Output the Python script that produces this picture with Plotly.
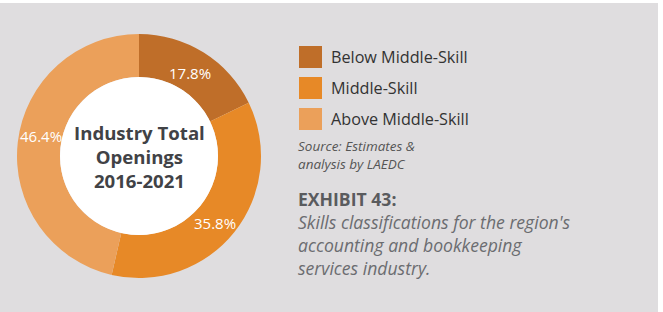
import plotly.graph_objects as go

categories = ["Below Middle-Skill", "Middle-Skill", "Above Middle-Skill"]
shares = [17.8, 35.8, 46.4]
colors = ["#bf6e29", "#e78927", "#eba05a"]
center_title = "Industry Total<br>Openings<br>2016-2021"
source_text = "Source: Estimates &<br>analysis by LAEDC"
exhibit_title = "EXHIBIT 43:"
exhibit_caption = ["Skills classifications for the region's", "accounting and bookkeeping", "services industry."]

W, H = 663, 312
def px(x): return x / W
def py(y): return 1 - y / H

FONT = "Open Sans"
CX, CY, R_OUT, R_IN = 139, 156, 122, 79

fig = go.Figure()
fig.add_trace(go.Pie(
    labels=categories, values=shares, sort=False, direction="clockwise",
    rotation=0, hole=R_IN / R_OUT, marker=dict(colors=colors, line=dict(width=0)),
    textinfo="none", hoverinfo="label+percent", showlegend=False,
    domain=dict(x=[px(CX - R_OUT), px(CX + R_OUT)], y=[py(CY + R_OUT), py(CY - R_OUT)]),
))

shapes = [
    dict(type="rect", xref="paper", yref="paper", x0=0, x1=px(658), y0=0, y1=py(3),
         fillcolor="#dfdddf", line=dict(width=0), layer="below"),
    dict(type="circle", xref="paper", yref="paper", x0=px(CX - R_IN), x1=px(CX + R_IN),
         y0=py(CY + R_IN), y1=py(CY - R_IN), fillcolor="white", line=dict(width=0), layer="above"),
]
annotations = []

# slice labels
label_pos = [(190, 73), (215, 223), (41, 136)]
for v, (x, y) in zip(shares, label_pos):
    annotations.append(dict(x=px(x), y=py(y), xref="paper", yref="paper", text=f"{v}%",
                            showarrow=False, font=dict(family=FONT, size=15, color="white"),
                            xanchor="center", yanchor="middle"))

# center text
annotations.append(dict(x=px(CX), y=py(156), xref="paper", yref="paper", text=f"<b>{center_title}</b>",
                        showarrow=False, font=dict(family=FONT, size=18.6, color="#414246"),
                        xanchor="center", yanchor="middle", align="center"))

# legend
rows = [57, 88, 119]
for cat, col, y in zip(categories, colors, rows):
    shapes.append(dict(type="rect", xref="paper", yref="paper", x0=px(299), x1=px(322),
                       y0=py(y + 11), y1=py(y - 11), fillcolor=col, line=dict(width=0)))
    annotations.append(dict(x=px(329), y=py(y), xref="paper", yref="paper", text=cat,
                            showarrow=False, font=dict(family=FONT, size=16.2, color="#333333"),
                            xanchor="left", yanchor="middle"))

annotations.append(dict(x=px(296), y=py(155), xref="paper", yref="paper", text=f"<i>{source_text}</i>",
                        showarrow=False, font=dict(family=FONT, size=13.5, color="#555555"),
                        xanchor="left", yanchor="middle", align="left"))

exhibit_text = (f"<b><span style='color:#5a5b5e'>{exhibit_title}</span></b><br>"
                + "<br>".join(f"<i>{line}</i>" for line in exhibit_caption))
annotations.append(dict(x=px(296), y=py(233), xref="paper", yref="paper", text=exhibit_text,
                        showarrow=False, font=dict(family=FONT, size=17.6, color="#6b6c70"),
                        xanchor="left", yanchor="middle", align="left"))

fig.update_layout(width=W, height=H, margin=dict(l=0, r=0, t=0, b=0),
                  paper_bgcolor="white", plot_bgcolor="white",
                  shapes=shapes, annotations=annotations, showlegend=False)
fig.write_html("out.html", post_script="document.body.style.margin='0';",
               config={"displayModeBar": False})
